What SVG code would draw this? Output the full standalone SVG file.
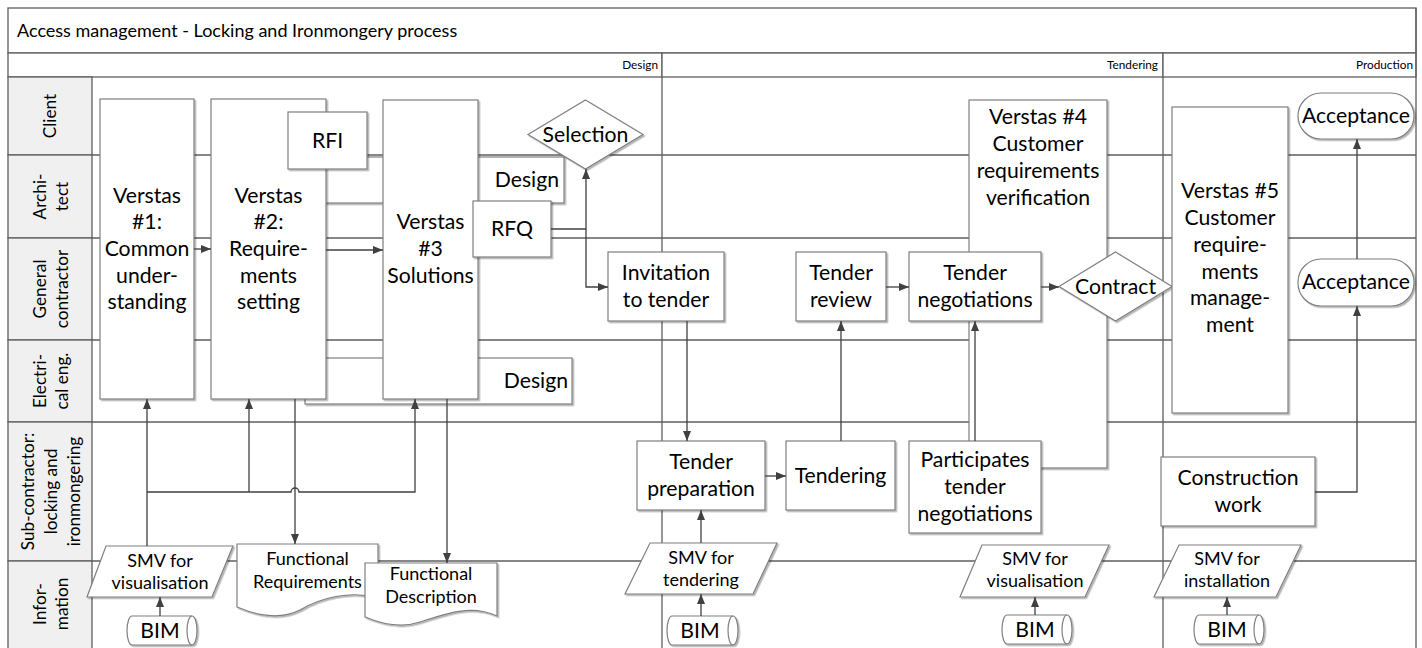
<svg xmlns="http://www.w3.org/2000/svg" width="1422" height="648" viewBox="0 0 1422 648">
<defs>
<filter id="sh" x="-10%" y="-10%" width="130%" height="130%"><feDropShadow dx="1.5" dy="1.5" stdDeviation="0.7" flood-color="#000" flood-opacity="0.3"/></filter>
<marker id="ar" viewBox="0 0 10 8" refX="10" refY="4" markerWidth="10" markerHeight="8" markerUnits="userSpaceOnUse" orient="auto"><path d="M0,0 L10,4 L0,8 z" fill="#404040"/></marker>
<style>
.fr{fill:#fff;stroke:#5f5f5f;stroke-width:1.3}
.ln{fill:none;stroke:#5f5f5f;stroke-width:1.3}
.lab{fill:#f0f0f0;stroke:#5f5f5f;stroke-width:1.3}
.n{fill:#fff;stroke:#7f7f7f;stroke-width:1.2;filter:url(#sh)}
.c{fill:none;stroke:#404040;stroke-width:1.3}
.ca{fill:none;stroke:#404040;stroke-width:1.3;marker-end:url(#ar)}
text{font-family:Lato,"Liberation Sans",sans-serif;fill:#000}
.t{font-size:21.2px;text-anchor:middle}
.tr{font-size:21.2px;text-anchor:end}
.s{font-size:18px;text-anchor:middle}
.l{font-size:17.2px;text-anchor:middle}
.p{font-size:11.8px;text-anchor:end}
.h{font-size:18px}
</style>
</defs>

<g id="pool">
<rect class="fr" x="8" y="8" width="1408" height="45"/>
<text class="h" x="17" y="37">Access management - Locking and Ironmongery process</text>
<rect class="fr" x="8" y="53" width="654" height="24"/>
<rect class="fr" x="662" y="53" width="501" height="24"/>
<rect class="fr" x="1163" y="53" width="253" height="24"/>
<text class="p" x="658" y="69">Design</text>
<text class="p" x="1158" y="69">Tendering</text>
<text class="p" x="1413" y="69">Production</text>
<rect class="lab" x="8" y="77" width="84" height="78"/>
<rect class="lab" x="8" y="155" width="84" height="83"/>
<rect class="lab" x="8" y="238" width="84" height="102"/>
<rect class="lab" x="8" y="340" width="84" height="82"/>
<rect class="lab" x="8" y="422" width="84" height="139"/>
<rect class="lab" x="8" y="561" width="84" height="100"/>
<path class="ln" d="M92,155 H1416 M92,238 H1416 M92,340 H1416 M92,422 H1416 M92,561 H1416 M662,77 V660 M1163,77 V660 M1416,8 V660"/>
<text class="l" transform="rotate(-90 50 116)"><tspan x="50" y="122">Client</tspan></text>
<text class="l" transform="rotate(-90 50 196.5)"><tspan x="50" y="192.5">Archi-</tspan><tspan x="50" y="214.5">tect</tspan></text>
<text class="l" transform="rotate(-90 50 289)"><tspan x="50" y="285">General</tspan><tspan x="50" y="307">contractor</tspan></text>
<text class="l" transform="rotate(-90 50 381)"><tspan x="50" y="377">Electri-</tspan><tspan x="50" y="399">cal eng.</tspan></text>
<text class="l" transform="rotate(-90 50 491.5)"><tspan x="50" y="475.5">Sub-contractor:</tspan><tspan x="50" y="498.5">locking and</tspan><tspan x="50" y="521.5">ironmongering</tspan></text>
<text class="l" transform="rotate(-90 50 604)"><tspan x="50" y="600">Infor-</tspan><tspan x="50" y="622">mation</tspan></text>
</g>

<g id="design-architect">
<rect class="n" x="305" y="157" width="259" height="46"/>
<text class="tr" x="559" y="187">Design</text>
</g>
<g id="design-electrical">
<rect class="n" x="305" y="358" width="267" height="46"/>
<text class="tr" x="568" y="388">Design</text>
</g>
<g id="verstas1">
<rect class="n" x="100" y="99" width="94" height="300"/>
<text class="t"><tspan x="147" y="202.6">Verstas</tspan><tspan x="147" y="229.3">#1:</tspan><tspan x="147" y="256">Common</tspan><tspan x="147" y="282.7">under-</tspan><tspan x="147" y="309.4">standing</tspan></text>
</g>
<g id="verstas2">
<rect class="n" x="211" y="99" width="115" height="300"/>
<text class="t"><tspan x="268.5" y="202.6">Verstas</tspan><tspan x="268.5" y="229.3">#2:</tspan><tspan x="268.5" y="256">Require-</tspan><tspan x="268.5" y="282.7">ments</tspan><tspan x="268.5" y="309.4">setting</tspan></text>
</g>
<g id="rfi">
<rect class="n" x="288" y="112" width="79" height="57"/>
<text class="t" x="327.5" y="147.5">RFI</text>
</g>
<g id="verstas3">
<rect class="n" x="383" y="100" width="95" height="299"/>
<text class="t"><tspan x="430.5" y="229.3">Verstas</tspan><tspan x="430.5" y="256">#3</tspan><tspan x="430.5" y="282.7">Solutions</tspan></text>
</g>
<g id="rfq">
<rect class="n" x="473" y="201" width="78" height="56"/>
<text class="t" x="512" y="236">RFQ</text>
</g>
<g id="selection">
<polygon class="n" points="585.5,100 643,134.5 585.5,169 528,134.5"/>
<text class="t" x="585.5" y="141.5">Selection</text>
</g>
<g id="invitation">
<rect class="n" x="608" y="252" width="116" height="69"/>
<text class="t"><tspan x="666" y="280.2">Invitation</tspan><tspan x="666" y="306.8">to tender</tspan></text>
</g>
<g id="tender-review">
<rect class="n" x="796" y="252" width="90" height="69"/>
<text class="t"><tspan x="841" y="280.2">Tender</tspan><tspan x="841" y="306.8">review</tspan></text>
</g>
<g id="verstas4">
<rect class="n" x="969" y="100" width="138" height="368"/>
<text class="t"><tspan x="1038" y="124">Verstas #4</tspan><tspan x="1038" y="151">Customer</tspan><tspan x="1038" y="178">requirements</tspan><tspan x="1038" y="205">verification</tspan></text>
</g>
<g id="tender-negotiations">
<rect class="n" x="909" y="252" width="132" height="69"/>
<text class="t"><tspan x="975" y="280.2">Tender</tspan><tspan x="975" y="306.8">negotiations</tspan></text>
</g>
<g id="contract">
<polygon class="n" points="1115.5,252 1172,286.5 1115.5,321 1059,286.5"/>
<text class="t" x="1115.5" y="293.5">Contract</text>
</g>
<g id="participates">
<rect class="n" x="909" y="441" width="132" height="92"/>
<text class="t"><tspan x="975" y="467.3">Participates</tspan><tspan x="975" y="494">tender</tspan><tspan x="975" y="520.7">negotiations</tspan></text>
</g>
<g id="tender-preparation">
<rect class="n" x="637" y="441" width="128" height="69"/>
<text class="t"><tspan x="701" y="469">Tender</tspan><tspan x="701" y="496">preparation</tspan></text>
</g>
<g id="tendering">
<rect class="n" x="786" y="441" width="109" height="69"/>
<text class="t" x="840.5" y="482.5">Tendering</text>
</g>
<g id="verstas5">
<rect class="n" x="1172" y="107" width="116" height="306"/>
<text class="t"><tspan x="1230" y="198">Verstas #5</tspan><tspan x="1230" y="225">Customer</tspan><tspan x="1230" y="252">require-</tspan><tspan x="1230" y="278.5">ments</tspan><tspan x="1230" y="305">manage-</tspan><tspan x="1230" y="332">ment</tspan></text>
</g>
<g id="acceptance-client">
<rect class="n" x="1298" y="93" width="116" height="46" rx="23" ry="23"/>
<text class="t" x="1356" y="123">Acceptance</text>
</g>
<g id="acceptance-gc">
<rect class="n" x="1298" y="259" width="116" height="47" rx="23" ry="23"/>
<text class="t" x="1356" y="289">Acceptance</text>
</g>
<g id="construction-work">
<rect class="n" x="1161" y="457" width="154" height="69"/>
<text class="t"><tspan x="1238" y="485">Construction</tspan><tspan x="1238" y="512">work</tspan></text>
</g>
<g id="smv-visualisation-1">
<polygon class="n" points="106,546 233,546 212,597 87,597"/>
<text class="s"><tspan x="160" y="567">SMV for</tspan><tspan x="160" y="588.5">visualisation</tspan></text>
</g>
<g id="bim-1">
<path class="n" d="M132,616 H192 A5,14.5 0 0 1 192,645 H132 A5,14.5 0 0 1 132,616 Z"/>
<path class="c" style="stroke:#7f7f7f;stroke-width:1.2" d="M192,616 A5,14.5 0 0 0 192,645"/>
<text class="t" x="160" y="638">BIM</text>
</g>
<g id="functional-requirements">
<path class="n" d="M237,544 H378 V598 C350,590 320,598 300,610 C280,620 258,616 237,607 Z"/>
<text class="s"><tspan x="307.5" y="565">Functional</tspan><tspan x="307.5" y="588">Requirements</tspan></text>
</g>
<g id="functional-description">
<path class="n" d="M365,563 H497 V616 C470,604 445,614 420,622 C402,628 384,625 365,617 Z"/>
<text class="s"><tspan x="431" y="580">Functional</tspan><tspan x="431" y="603">Description</tspan></text>
</g>
<g id="smv-tendering">
<polygon class="n" points="650,543 777,543 753,594 625,594"/>
<text class="s"><tspan x="701" y="563.5">SMV for</tspan><tspan x="701" y="585.5">tendering</tspan></text>
</g>
<g id="bim-2">
<path class="n" d="M672,616 H733 A5,14.5 0 0 1 733,645 H672 A5,14.5 0 0 1 672,616 Z"/>
<path class="c" style="stroke:#7f7f7f;stroke-width:1.2" d="M733,616 A5,14.5 0 0 0 733,645"/>
<text class="t" x="700" y="638">BIM</text>
</g>
<g id="smv-visualisation-2">
<polygon class="n" points="982,545 1109,545 1085,597 960,597"/>
<text class="s"><tspan x="1035" y="565">SMV for</tspan><tspan x="1035" y="587">visualisation</tspan></text>
</g>
<g id="bim-3">
<path class="n" d="M1007,615 H1067 A5,14.5 0 0 1 1067,644 H1007 A5,14.5 0 0 1 1007,615 Z"/>
<path class="c" style="stroke:#7f7f7f;stroke-width:1.2" d="M1067,615 A5,14.5 0 0 0 1067,644"/>
<text class="t" x="1035" y="637">BIM</text>
</g>
<g id="smv-installation">
<polygon class="n" points="1179,545 1301,545 1276,597 1154,597"/>
<text class="s"><tspan x="1227" y="565">SMV for</tspan><tspan x="1227" y="587">installation</tspan></text>
</g>
<g id="bim-4">
<path class="n" d="M1199,615 H1259 A5,14.5 0 0 1 1259,644 H1199 A5,14.5 0 0 1 1199,615 Z"/>
<path class="c" style="stroke:#7f7f7f;stroke-width:1.2" d="M1259,615 A5,14.5 0 0 0 1259,644"/>
<text class="t" x="1227" y="637">BIM</text>
</g>

<g id="connectors">
<path class="ca" d="M194,249 H211"/>
<path class="ca" d="M326,250 H383"/>
<path class="ca" d="M147,546 V399"/>
<path class="ca" d="M147,492 H291 A4,4 0 0 1 299,492 H415 V399"/>
<path class="ca" d="M249,492 V399"/>
<path class="ca" d="M295,399 V544"/>
<path class="ca" d="M447,399 V563"/>
<path class="ca" d="M160,616 V597"/>
<path class="c" d="M551,229 H586"/>
<path class="ca" d="M586,229 V169"/>
<path class="ca" d="M586,229 V287 H608"/>
<path class="ca" d="M687,321 V441"/>
<path class="ca" d="M765,476 H786"/>
<path class="ca" d="M841,441 V321"/>
<path class="ca" d="M886,287 H909"/>
<path class="ca" d="M1041,287 H1059"/>
<path class="ca" d="M975,441 V321"/>
<path class="ca" d="M701,543 V510"/>
<path class="ca" d="M701,616 V594"/>
<path class="ca" d="M1035,615 V597"/>
<path class="ca" d="M1227,615 V597"/>
<path class="ca" d="M1315,492 H1357 V306"/>
<path class="ca" d="M1357,259 V139"/>
</g>
</svg>
